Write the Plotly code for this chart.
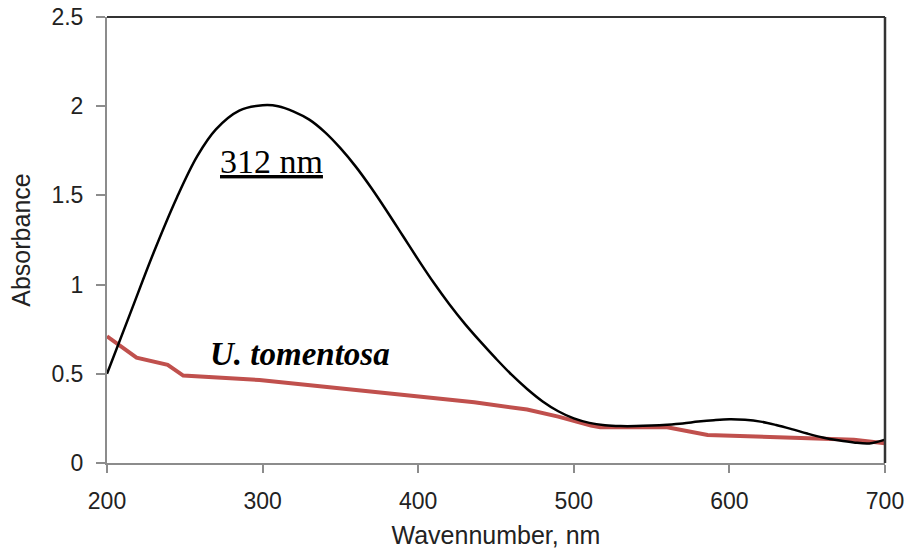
import plotly.graph_objects as go

# Black spectrum (wavelength nm, absorbance)
black_x = [200, 215, 230, 245, 258, 270, 285, 300, 310, 320, 330, 340, 350, 360, 370, 380,
           390, 400, 410, 420, 430, 440, 450, 460, 470, 480, 490, 500, 510, 520, 530, 540,
           550, 560, 570, 580, 590, 600, 610, 620, 630, 640, 650, 660, 670, 680, 690, 700]
black_y = [0.50, 0.84, 1.18, 1.49, 1.72, 1.87, 1.975, 2.005, 2.0, 1.97, 1.925, 1.855, 1.765,
           1.66, 1.54, 1.41, 1.275, 1.14, 1.01, 0.89, 0.78, 0.68, 0.585, 0.495, 0.415, 0.345,
           0.29, 0.25, 0.225, 0.212, 0.207, 0.207, 0.21, 0.215, 0.222, 0.232, 0.24, 0.245,
           0.242, 0.232, 0.213, 0.19, 0.165, 0.143, 0.127, 0.115, 0.11, 0.13]

# U. tomentosa spectrum
red_x = [200, 208, 219, 239, 249, 298, 350, 393, 436, 470, 490, 511, 517, 560, 586, 646, 680, 700]
red_y = [0.71, 0.66, 0.59, 0.55, 0.49, 0.465, 0.42, 0.38, 0.34, 0.30, 0.26, 0.21, 0.20,
         0.20, 0.157, 0.14, 0.13, 0.11]

x_ticks = [200, 300, 400, 500, 600, 700]
y_ticks = [0, 0.5, 1, 1.5, 2, 2.5]
y_tick_labels = ["0", "0.5", "1", "1.5", "2", "2.5"]

fig = go.Figure()
fig.add_trace(go.Scatter(x=red_x, y=red_y, mode="lines",
                         line=dict(color="#C0504D", width=4), showlegend=False))
fig.add_trace(go.Scatter(x=black_x, y=black_y, mode="lines",
                         line=dict(color="#000000", width=2.5, shape="spline", smoothing=1),
                         showlegend=False))

tickfont = dict(family="Liberation Sans, Arial", size=23, color="#222")
titlefont = dict(family="Liberation Sans, Arial", size=25, color="#222")
fig.update_xaxes(range=[200, 700], tickvals=x_ticks, showgrid=False, zeroline=False,
                 showline=True, linecolor="#8c8c8c", linewidth=2, automargin=False,
                 ticks="outside", ticklen=8, tickcolor="#8c8c8c", tickwidth=2,
                 tickfont=tickfont, ticklabelstandoff=8,
                 title=dict(text="Wavennumber, nm", font=titlefont, standoff=14))
fig.update_yaxes(range=[0, 2.5], tickvals=y_ticks, ticktext=y_tick_labels, showgrid=False,
                 zeroline=False, showline=True, linecolor="#8c8c8c", linewidth=2,
                 automargin=False,
                 ticks="outside", ticklen=9, tickcolor="#8c8c8c", tickwidth=2,
                 tickfont=tickfont, ticklabelstandoff=8,
                 title=dict(text="Absorbance", font=titlefont, standoff=14))

# dark top and right border
fig.add_shape(type="line", xref="paper", yref="paper", x0=0, x1=1, y0=1, y1=1,
              line=dict(color="#333333", width=2))
fig.add_shape(type="line", xref="paper", yref="paper", x0=1, x1=1, y0=0, y1=1,
              line=dict(color="#333333", width=2.5))

fig.add_annotation(x=306, y=1.69, text="<u>312 nm</u>", showarrow=False,
                   font=dict(family="Liberation Serif, Times New Roman", size=34, color="#000"))
fig.add_annotation(x=324, y=0.61, text="<b><i>U. tomentosa</i></b>", showarrow=False,
                   font=dict(family="Liberation Serif, Times New Roman", size=33, color="#000"))

fig.update_layout(width=907, height=552, margin=dict(l=107, r=22, t=17, b=89),
                  paper_bgcolor="white", plot_bgcolor="white")
fig.write_html("out.html")
